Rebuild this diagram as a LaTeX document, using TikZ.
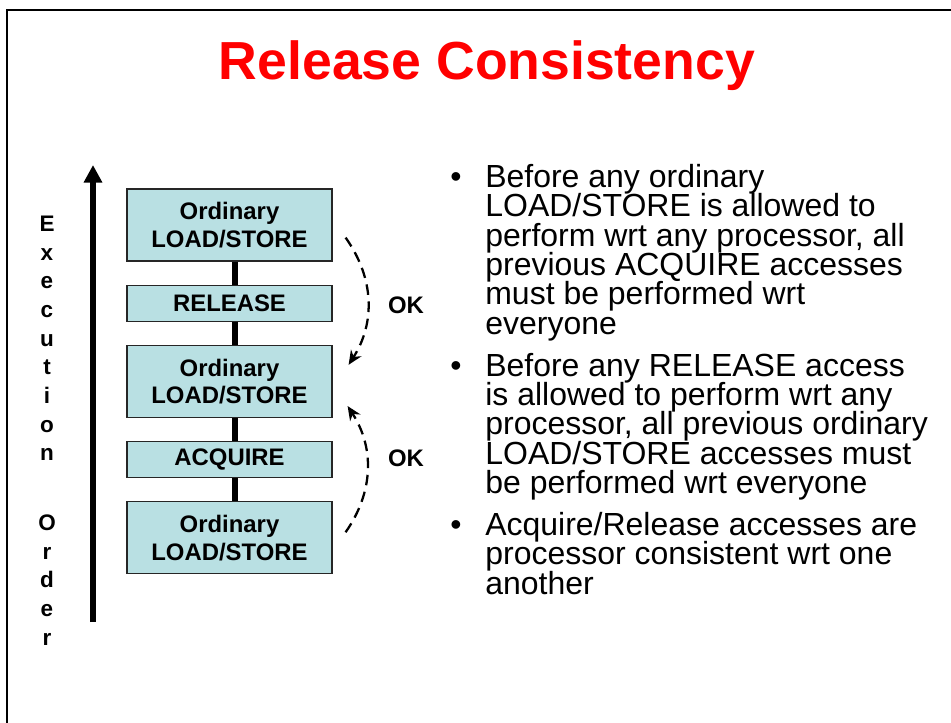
\documentclass[tikz,border=0pt]{standalone}
\usepackage{fontspec}
\setmainfont{Liberation Sans}
\usepackage{tikz}
\usetikzlibrary{arrows.meta,positioning,calc}
\definecolor{RCbox}{RGB}{185,224,227}
\definecolor{RCtitle}{RGB}{255,0,0}
\newcommand\RCtight{\lineskiplimit=-50pt\relax}

\begin{document}
\begin{tikzpicture}[x=0.02cm, y=-0.02cm,
    opbox/.style={draw=black!85, line width=0.7pt, fill=RCbox, minimum width=4.1cm,
        align=center, inner sep=0pt, font=\fontsize{13.6}{15.7}\selectfont\bfseries},
    bigop/.style={opbox, minimum height=1.44cm},
    smallop/.style={opbox, minimum height=0.72cm},
    link/.style={line width=3.2pt},
    okarrow/.style={line width=1.3pt, dash pattern=on 6pt off 3.8pt, -{Stealth[length=8pt,width=7pt]}},
    bullettext/.style={align=left, inner sep=0pt, anchor=north west,
        font=\fontsize{18.2}{16.7}\selectfont\RCtight}]
    \useasboundingbox (0,0) rectangle (951,723);
    \draw[line width=1.6pt] (951,10) -- (7,10) -- (7,723);
    \node[font=\fontsize{30.5}{36}\selectfont\bfseries, text=RCtitle, anchor=base] (title) at (487,80) {Release Consistency};
    % stack of accesses
    \node[bigop] (ls1) at (229.5,225) {Ordinary\\LOAD/STORE};
    \node[smallop, below=0.46cm of ls1] (rel) {RELEASE};
    \node[bigop, below=0.46cm of rel] (ls2) {Ordinary\\LOAD/STORE};
    \node[smallop, below=0.46cm of ls2] (acq) {ACQUIRE};
    \node[bigop, below=0.46cm of acq] (ls3) {Ordinary\\LOAD/STORE};
    \draw[link] ([xshift=0.11cm]ls1.south) -- ([xshift=0.11cm]rel.north);
    \draw[link] ([xshift=0.11cm]rel.south) -- ([xshift=0.11cm]ls2.north);
    \draw[link] ([xshift=0.11cm]ls2.south) -- ([xshift=0.11cm]acq.north);
    \draw[link] ([xshift=0.11cm]acq.south) -- ([xshift=0.11cm]ls3.north);
    % execution order
    \coordinate (tail) at (93,622);
    \coordinate (head) at (93,165);
    \draw[line width=3pt, -{Triangle[length=10pt,width=10pt]}] (tail) -- (head);
    \node[font=\fontsize{12.8}{16.3}\selectfont\bfseries, align=center, anchor=north] (order) at (47,210)
        {E\\x\\e\\c\\u\\t\\i\\o\\n\\[23.5pt]O\\r\\d\\e\\r};
    % ok arrows
    \draw[okarrow] ($(ls1.south east)+(13,-24)$) to[bend left=34] ($(ls2.north east)+(16,20)$);
    \draw[okarrow] ($(ls3.north east)+(13,31)$) to[bend right=34] ($(ls2.south east)+(15,-12)$);
    \node[font=\fontsize{13.6}{15}\selectfont\bfseries] (ok1) at (406,305) {OK};
    \node[font=\fontsize{13.6}{15}\selectfont\bfseries] (ok2) at (406,458) {OK};
    % bullets
    \node[bullettext] (b1) at (485,164) {\llap{\textbullet\hspace{13.5pt}}Before any ordinary\\LOAD/STORE is allowed to\\perform wrt any processor, all\\previous ACQUIRE accesses\\must be performed wrt\\everyone};
    \node[bullettext, below=6.5pt of b1.south west, anchor=north west] (b2) {\llap{\textbullet\hspace{13.5pt}}Before any RELEASE access\\is allowed to perform wrt any\\processor, all previous ordinary\\LOAD/STORE accesses must\\be performed wrt everyone};
    \node[bullettext, below=6.5pt of b2.south west, anchor=north west] (b3) {\llap{\textbullet\hspace{13.5pt}}Acquire/Release accesses are\\processor consistent wrt one\\another};
\end{tikzpicture}
\end{document}
